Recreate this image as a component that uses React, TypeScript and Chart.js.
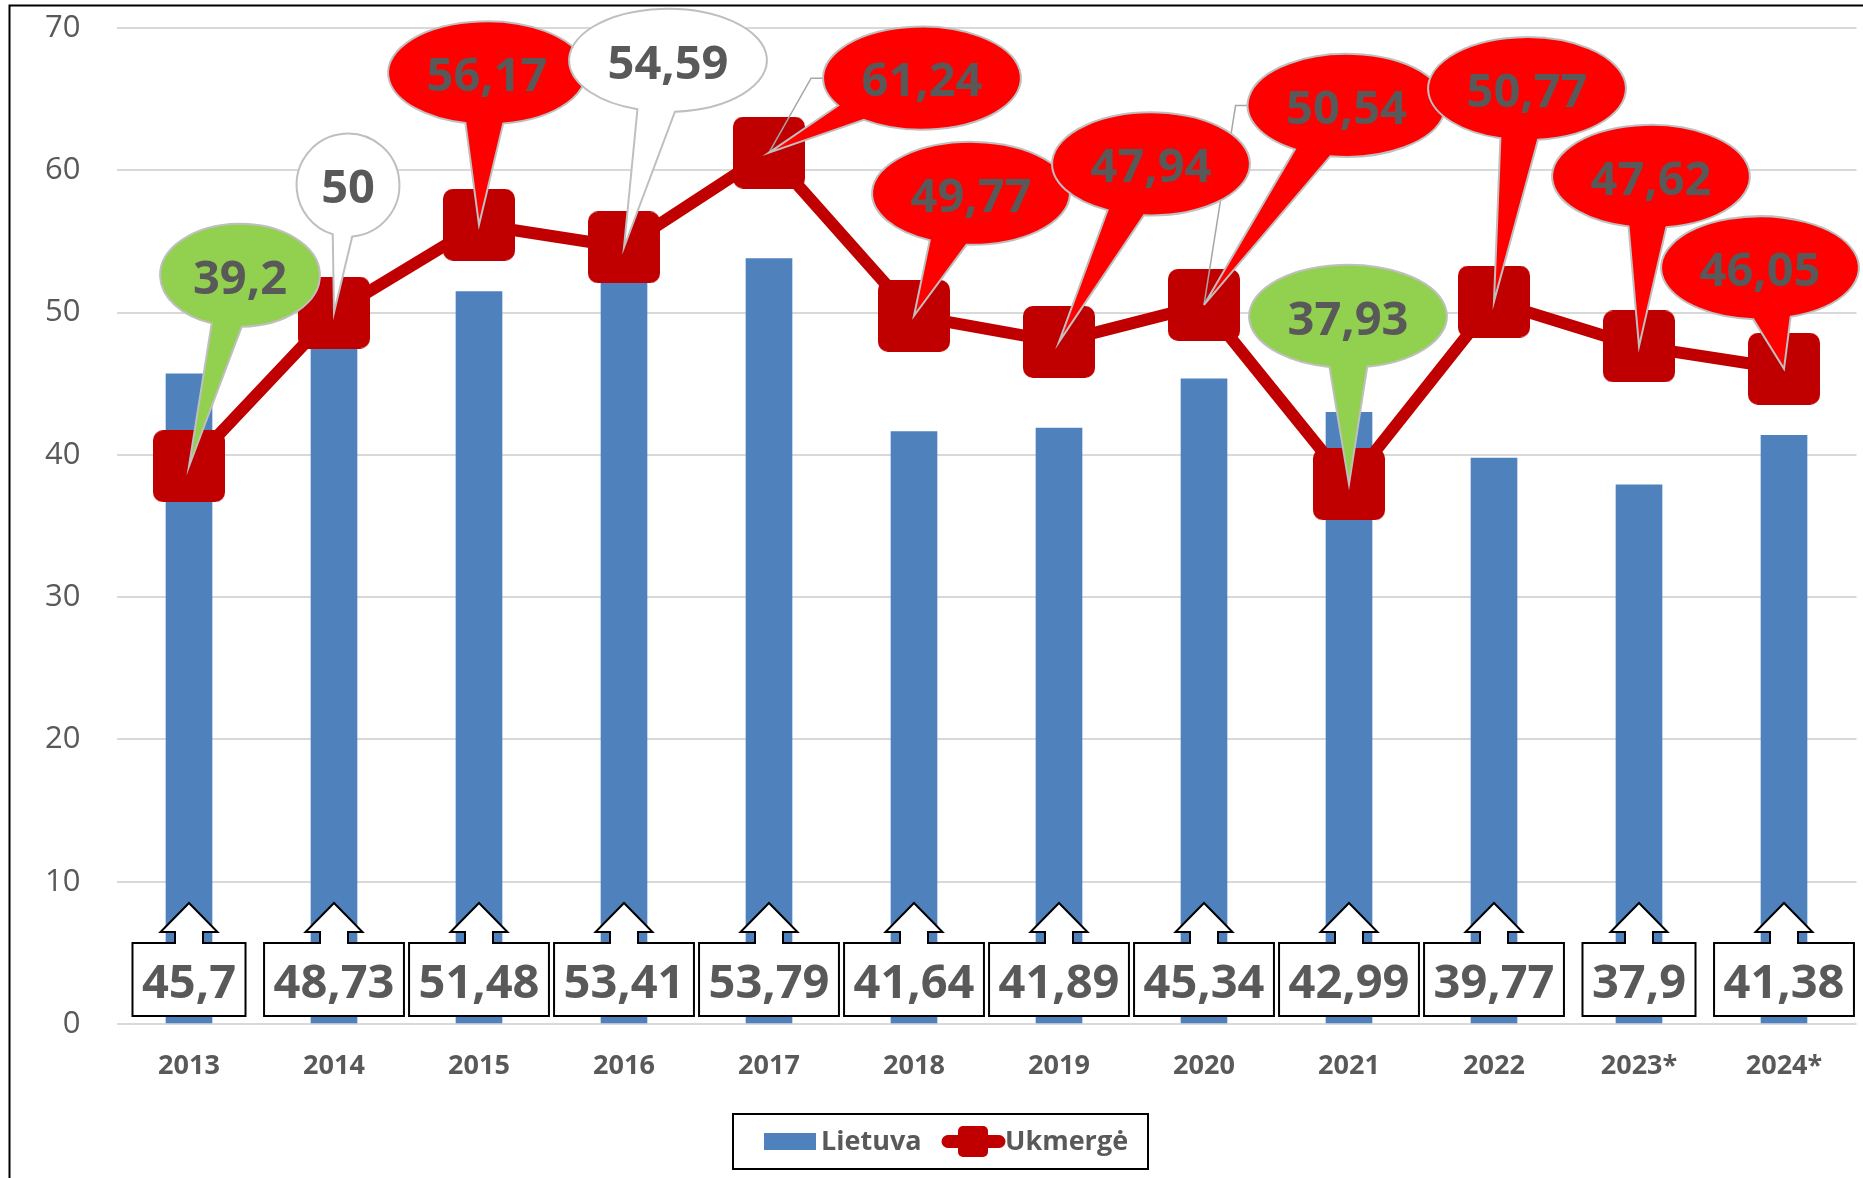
import React, { useEffect, useRef } from 'react';
import { Chart, registerables } from 'chart.js';

Chart.register(...registerables);

// ---------- data ----------
const categories = ['2013', '2014', '2015', '2016', '2017', '2018', '2019', '2020', '2021', '2022', '2023*', '2024*'];
const lietuva = [45.7, 48.73, 51.48, 53.41, 53.79, 41.64, 41.89, 45.34, 42.99, 39.77, 37.9, 41.38];
const ukmerge = [39.2, 50, 56.17, 54.59, 61.24, 49.77, 47.94, 50.54, 37.93, 50.77, 47.62, 46.05];
const seriesNames = ['Lietuva', 'Ukmergė'];
const yMin = 0;
const yMax = 70;
const yStep = 10;

// ---------- styles ----------
const FONT = "'Open Sans', 'Noto Sans', sans-serif";
const TEXT = '#595959';
const BAR_COLOR = '#4f81bd';
const LINE_COLOR = '#c00000';
const GRID = '#d9d9d9';
const calloutFill = ['#92d050', '#ffffff', '#ff0000', '#ffffff', '#ff0000', '#ff0000', '#ff0000', '#ff0000', '#92d050', '#ff0000', '#ff0000', '#ff0000'];
const calloutDx = [51, 14, 8, 44, 153, 57, 92, 142.5, -1, 33, 12, -24];
const calloutDy = [-191, -127.5, -152, -187, -74.5, -122.5, -178, -199.5, -168, -213, -170, -101];
const calloutLeader = [false, false, false, false, true, false, false, true, false, false, false, false];
const BIG = 47;

const fmt = (v: number) => String(v).replace('.', ',');

function makeMarker(size: number, r: number, color: string) {
  const c = document.createElement('canvas');
  c.width = size;
  c.height = size;
  const g = c.getContext('2d')!;
  g.fillStyle = color;
  roundRectPath(g, 0, 0, size, size, r);
  g.fill();
  return c;
}

function roundRectPath(g: CanvasRenderingContext2D, x: number, y: number, w: number, h: number, r: number) {
  g.beginPath();
  g.moveTo(x + r, y);
  g.lineTo(x + w - r, y);
  g.arcTo(x + w, y, x + w, y + r, r);
  g.lineTo(x + w, y + h - r);
  g.arcTo(x + w, y + h, x + w - r, y + h, r);
  g.lineTo(x + r, y + h);
  g.arcTo(x, y + h, x, y + h - r, r);
  g.lineTo(x, y + r);
  g.arcTo(x, y, x + r, y, r);
  g.closePath();
}

const bgPlugin = {
  id: 'bg',
  beforeDraw(chart: any) {
    const ctx = chart.ctx;
    ctx.save();
    ctx.fillStyle = '#ffffff';
    ctx.fillRect(0, 0, chart.width, chart.height);
    ctx.restore();
  },
};

const labelsPlugin = {
  id: 'calloutLabels',
  afterDatasetsDraw(chart: any) {
    const ctx: CanvasRenderingContext2D = chart.ctx;
    const yScale = chart.scales.y;
    const base = yScale.getPixelForValue(0);
    ctx.save();
    ctx.font = `bold ${BIG}px ${FONT}`;

    // bar labels: up-arrow callouts
    const barMeta = chart.getDatasetMeta(0);
    barMeta.data.forEach((el: any, i: number) => {
      const x = el.x;
      const txt = fmt(lietuva[i]);
      const tw = ctx.measureText(txt).width;
      const w = tw + 19;
      const top = base - 81;
      const bottom = base - 8;
      const shoulder = base - 92;
      const tip = base - 121;
      ctx.beginPath();
      ctx.moveTo(x - w / 2, top);
      ctx.lineTo(x - 14, top);
      ctx.lineTo(x - 14, shoulder);
      ctx.lineTo(x - 28.5, shoulder);
      ctx.lineTo(x, tip);
      ctx.lineTo(x + 28.5, shoulder);
      ctx.lineTo(x + 14, shoulder);
      ctx.lineTo(x + 14, top);
      ctx.lineTo(x + w / 2, top);
      ctx.lineTo(x + w / 2, bottom);
      ctx.lineTo(x - w / 2, bottom);
      ctx.closePath();
      ctx.fillStyle = '#ffffff';
      ctx.fill();
      ctx.strokeStyle = '#000000';
      ctx.lineWidth = 2;
      ctx.lineJoin = 'miter';
      ctx.stroke();
      ctx.fillStyle = TEXT;
      ctx.textAlign = 'center';
      ctx.textBaseline = 'alphabetic';
      ctx.fillText(txt, x, (top + bottom) / 2 + 2 + BIG * 0.357);
    });

    // line labels: wedge ellipse callouts
    const lineMeta = chart.getDatasetMeta(1);
    const pts = lineMeta.data;
    const geo = pts.map((p: any, i: number) => {
      const txt = fmt(ukmerge[i]);
      const tw = ctx.measureText(txt).width;
      const rx = (tw / 2 + 9.5) / 0.7071;
      const ry = 51.5;
      return { tx: p.x, ty: p.y, cx: p.x + calloutDx[i], cy: p.y + calloutDy[i], rx, ry, txt };
    });
    // leader lines
    geo.forEach((g: any, i: number) => {
      if (!calloutLeader[i]) return;
      const left = g.cx - g.rx;
      ctx.beginPath();
      ctx.moveTo(g.tx, g.ty);
      ctx.lineTo(left - 12, g.cy);
      ctx.lineTo(left, g.cy);
      ctx.strokeStyle = '#a6a6a6';
      ctx.lineWidth = 1.5;
      ctx.stroke();
    });
    const d = (11 * Math.PI) / 180;
    geo.forEach((g: any, i: number) => {
      const a0 = Math.atan2((g.ty - g.cy) / g.ry, (g.tx - g.cx) / g.rx);
      const a1 = a0 + d;
      const a2 = a0 - d;
      ctx.beginPath();
      ctx.moveTo(g.cx + g.rx * Math.cos(a1), g.cy + g.ry * Math.sin(a1));
      ctx.lineTo(g.tx, g.ty);
      ctx.lineTo(g.cx + g.rx * Math.cos(a2), g.cy + g.ry * Math.sin(a2));
      ctx.ellipse(g.cx, g.cy, g.rx, g.ry, 0, a2, a1, true);
      ctx.closePath();
      ctx.fillStyle = calloutFill[i];
      ctx.fill();
      ctx.strokeStyle = '#bfbfbf';
      ctx.lineWidth = 2;
      ctx.lineJoin = 'miter';
      ctx.stroke();
      ctx.fillStyle = TEXT;
      ctx.textAlign = 'center';
      ctx.textBaseline = 'alphabetic';
      ctx.fillText(g.txt, g.cx, g.cy + 1.5 + BIG * 0.357);
    });
    ctx.restore();
  },
};

const framePlugin = {
  id: 'frameLegend',
  afterDraw(chart: any) {
    const ctx: CanvasRenderingContext2D = chart.ctx;
    ctx.save();
    // outer frame
    ctx.strokeStyle = '#000000';
    ctx.lineWidth = 2;
    ctx.beginPath();
    ctx.moveTo(9.5, chart.height);
    ctx.lineTo(9.5, 5.5);
    ctx.lineTo(chart.width, 5.5);
    ctx.stroke();

    // legend
    const lx = 733, ly = 1114, lw = 415, lh = 55;
    ctx.fillStyle = '#ffffff';
    ctx.fillRect(lx, ly, lw, lh);
    ctx.strokeRect(lx, ly, lw, lh);
    ctx.fillStyle = BAR_COLOR;
    ctx.fillRect(lx + 31, 1133, 52, 17);
    ctx.font = `bold 27px ${FONT}`;
    ctx.fillStyle = TEXT;
    ctx.textAlign = 'left';
    ctx.textBaseline = 'alphabetic';
    ctx.fillText(seriesNames[0], lx + 88, 1150);
    ctx.strokeStyle = LINE_COLOR;
    ctx.lineWidth = 13;
    ctx.lineCap = 'round';
    ctx.beginPath();
    ctx.moveTo(lx + 215, 1141.5);
    ctx.lineTo(lx + 266, 1141.5);
    ctx.stroke();
    ctx.fillStyle = LINE_COLOR;
    roundRectPath(ctx, lx + 225, 1126, 30, 31, 5);
    ctx.fill();
    ctx.fillStyle = TEXT;
    ctx.fillText(seriesNames[1], lx + 272, 1150);
    ctx.restore();
  },
};

export default function App() {
  const ref = useRef<HTMLCanvasElement>(null);
  useEffect(() => {
    const canvas = ref.current!;
    const marker = makeMarker(72, 10, LINE_COLOR);
    const chart = new Chart(canvas, {
      type: 'bar',
      data: {
        labels: categories,
        datasets: [
          {
            type: 'bar',
            label: seriesNames[0],
            data: lietuva,
            backgroundColor: BAR_COLOR,
            barThickness: 46,
            order: 2,
          } as any,
          {
            type: 'line',
            label: seriesNames[1],
            data: ukmerge,
            borderColor: LINE_COLOR,
            backgroundColor: LINE_COLOR,
            borderWidth: 12,
            borderJoinStyle: 'round',
            borderCapStyle: 'round',
            pointStyle: marker,
            pointRadius: 36,
            pointHoverRadius: 36,
            pointBorderWidth: 0,
            tension: 0,
            fill: false,
            clip: false,
            order: 1,
          } as any,
        ],
      },
      options: {
        responsive: false,
        animation: false,
        devicePixelRatio: 1,
        events: [],
        layout: { autoPadding: false, padding: { left: 0, right: 6.5, top: 28, bottom: 0 } },
        plugins: {
          legend: { display: false },
          tooltip: { enabled: false },
          title: { display: false },
        },
        scales: {
          x: {
            grid: { display: false, drawTicks: false },
            border: { display: false },
            ticks: {
              color: TEXT,
              font: { family: FONT, size: 27, weight: 'bold' },
              padding: 26,
              maxRotation: 0,
              autoSkip: false,
            },
            afterFit: (s: any) => {
              s.height = 154;
            },
          },
          y: {
            min: yMin,
            max: yMax,
            ticks: {
              stepSize: yStep,
              color: TEXT,
              font: { family: FONT, size: 31 },
              padding: 3,
            },
            grid: {
              color: GRID,
              lineWidth: 2,
              drawTicks: true,
              tickLength: 33,
              tickColor: 'rgba(0,0,0,0)',
            },
            border: { display: false },
            afterFit: (s: any) => {
              s.width = 116.5;
            },
          },
        },
      } as any,
      plugins: [bgPlugin, labelsPlugin, framePlugin],
    });
    return () => chart.destroy();
  }, []);
  return (
    <div style={{ position: 'fixed', left: 0, top: 0, width: 1863, height: 1178 }}>
      <canvas ref={ref} width={1863} height={1178} style={{ display: 'block' }} />
    </div>
  );
}
